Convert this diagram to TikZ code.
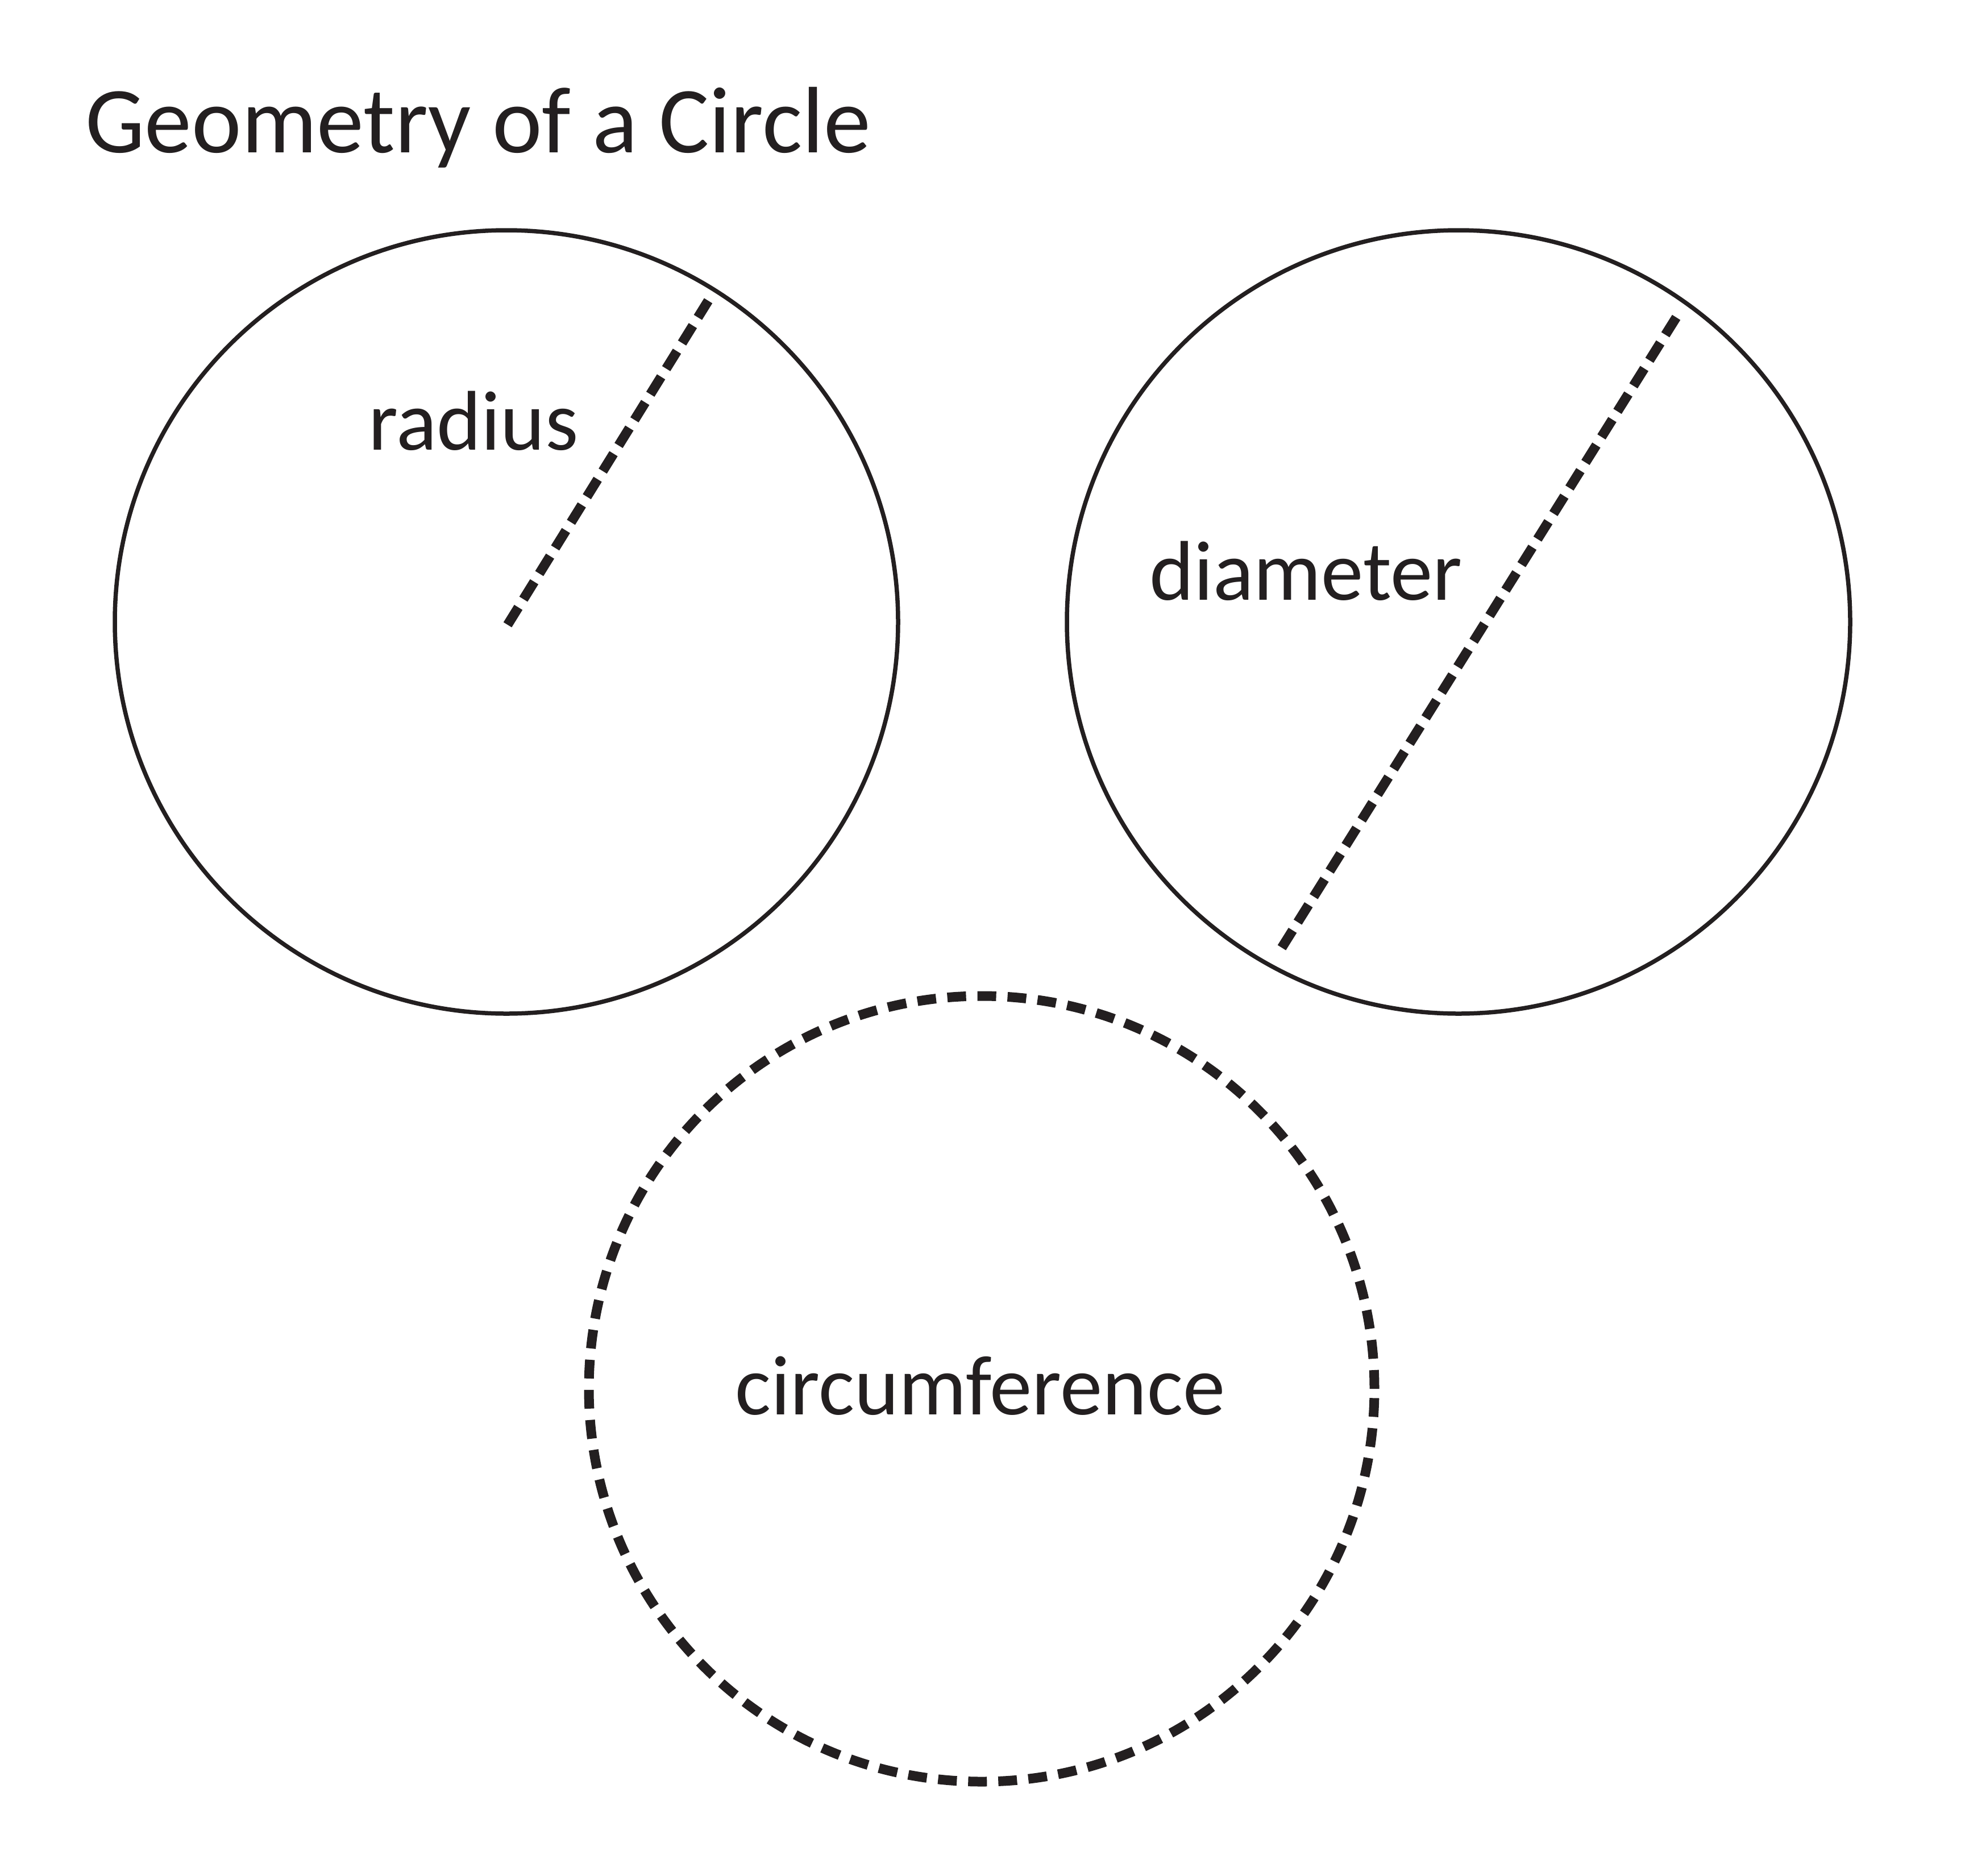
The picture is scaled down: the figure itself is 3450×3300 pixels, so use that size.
\documentclass[tikz,border=0pt]{standalone}
\usepackage{fontspec}
\setmainfont{Carlito}
\definecolor{ink}{RGB}{35,31,32}
\begin{document}
\begin{tikzpicture}[x=1pt,y=-1pt,
  ring/.style={circle,draw=ink,line width=7.5pt,inner sep=0pt,minimum size=1378pt},
  dashring/.style={circle,draw=ink,line width=17pt,inner sep=0pt,minimum size=1382pt,dash pattern=on 33pt off 20pt},
  dashline/.style={draw=ink,line width=17pt,dash pattern=on 36pt off 17pt},
  lbl/.style={anchor=base west,inner sep=0pt,text=ink,font=\fontsize{149}{175}\selectfont},
  ttl/.style={anchor=base west,inner sep=0pt,text=ink,font=\fontsize{166}{195}\selectfont}]
\useasboundingbox (0,0) rectangle (3450,3300);
\fill[white] (0,0) rectangle (3450,3300);
\node[ttl] (title) at (150,268) {Geometry of a Circle};
\node[ring] (c1) at (891,1094) {};
\node[ring] (c2) at (2566,1094) {};
\node[dashring] (c3) at (1727,2443) {};
\coordinate (rstart) at (893,1099);
\coordinate (rend) at (1246,529);
\coordinate (da) at (2255,1667);
\coordinate (db) at (2953,552);
\draw[dashline] (rstart) -- (rend);
\draw[dashline] (da) -- (db);
\node[lbl] (rlabel) at (648,791) {radius};
\node[lbl] (dlabel) at (2022,1055) {diameter};
\node[lbl] (clabel) at (1293,2488) {circumference};
\end{tikzpicture}
\end{document}
